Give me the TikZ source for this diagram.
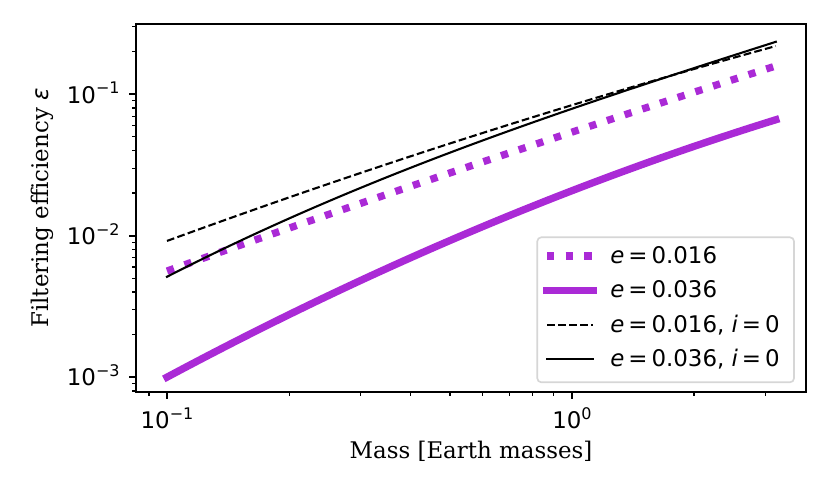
\documentclass[tikz,border=0pt]{standalone}
\usepackage{fontspec}
\setmainfont{DejaVu Serif}
\newfontfamily\dvsans{DejaVu Sans}
\definecolor{purp}{RGB}{170,42,214}
\definecolor{legedge}{RGB}{214,214,214}
\newcommand\tenpow[1]{{\dvsans 10\raisebox{0.4em}{\fontsize{8pt}{8pt}\selectfont #1}}}
\newcommand\eqsp{\hspace{0.17em}=\hspace{0.17em}}
\tikzset{
  spine/.style={line width=0.83pt, line cap=rect},
  majtick/.style={line width=0.83pt},
  mintick/.style={line width=0.62pt},
  dotcurve/.style={purp, line width=3.65pt, dash pattern=on 3.65pt off 5.65pt, line cap=butt, line join=round},
  thickcurve/.style={purp, line width=3.65pt, line cap=rect, line join=round},
  dashcurve/.style={black, line width=1.04pt, dash pattern=on 3.85pt off 1.66pt, line join=round},
  thincurve/.style={black, line width=1.04pt, line cap=rect, line join=round},
  ticklab/.style={inner sep=0pt, font=\fontsize{11.46pt}{13pt}\selectfont\dvsans},
  axlab/.style={inner sep=0pt, font=\fontsize{11.46pt}{13pt}\selectfont},
  legtext/.style={inner sep=0pt, anchor=base west, font=\fontsize{11.46pt}{13pt}\selectfont\dvsans},
  legbox/.style={draw=legedge, line width=0.83pt, fill=white, rounded corners=2pt, inner sep=0pt}
}
\begin{document}
\begin{tikzpicture}[x=0.5pt, y=-0.5pt]
\useasboundingbox (0,0) rectangle (830,498);
% data curves
\begin{scope}[shift={(572,235.7)}, x=202.5pt, y=70.75pt]
  \clip (-1.0765,-1.104) rectangle (0.578,1.497);
  \draw[dotcurve] plot[domain=-1:0.504, samples=80] (\x, {0.732+0.9468*\x-0.035*\x*\x});
  \draw[thickcurve] plot[domain=-1:0.504, samples=80] (\x, {0.318+1.104*\x-0.2138*\x*\x});
  \draw[dashcurve] plot[domain=-1:0.504, samples=80] (\x, {0.9228+0.8732*\x-0.0866*\x*\x});
  \draw[thincurve] plot[domain=-1:0.504, samples=80] (\x, {-0.29+1.3004*(\x+1)-0.2205*(\x+1)*(\x+0.474)+0.0767*(\x+1)*(\x+0.474)*(\x-0.242)});
\end{scope}
% x ticks
\foreach \u in {-1,0} \draw[majtick] ({572+405*\u},392) -- ++(0,7.3);
\foreach \k in {0.09,0.2,0.3,0.4,0.5,0.6,0.7,0.8,0.9,2,3}
  \draw[mintick] ({572+405*ln(\k)/ln(10)},392) -- ++(0,4.17);
% y ticks
\foreach \l in {-1,0,1} \draw[majtick] (136,{235.7-141.5*\l}) -- ++(-7.3,0);
\foreach \k in {2,...,9} {
  \draw[mintick] (136,{235.7-141.5*(-1+ln(\k)/ln(10))}) -- ++(-4.17,0);
  \draw[mintick] (136,{235.7-141.5*(ln(\k)/ln(10))}) -- ++(-4.17,0);
}
\foreach \k in {2,3} \draw[mintick] (136,{235.7-141.5*(1+ln(\k)/ln(10))}) -- ++(-4.17,0);
\foreach \k in {8,9} \draw[mintick] (136,{235.7-141.5*(-2+ln(\k)/ln(10))}) -- ++(-4.17,0);
% tick labels
\node[ticklab, anchor=base] (xt1) at (167,428.3) {\tenpow{−1}};
\node[ticklab, anchor=base] (xt2) at (572,428.3) {\tenpow{0}};
\node[ticklab, anchor=base east] (yt1) at (120,103) {\tenpow{−1}};
\node[ticklab, anchor=base east] (yt2) at (120,244.4) {\tenpow{−2}};
\node[ticklab, anchor=base east] (yt3) at (120,385.9) {\tenpow{−3}};
% axis labels
\node[axlab, anchor=base] (xlab) at (471,458.3) {Mass [Earth masses]};
\node[axlab, anchor=base, rotate=90] (ylab) at (48.5,208) {Filtering efficiency {\dvsans\itshape ε}};
% legend
\node[legbox, minimum width=128.35pt, minimum height=72.5pt] (legend) at (665.65,309.8) {};
\draw[dotcurve] (547,256) -- (593,256);
\draw[thickcurve] (547,290.4) -- (593,290.4);
\draw[dashcurve] (547,324.8) -- (593,324.8);
\draw[thincurve] (547,359.2) -- (593,359.2);
\node[legtext] (l1) at (610,263.3) {{\itshape e}\eqsp 0.016};
\node[legtext] (l2) at (610,297.7) {{\itshape e}\eqsp 0.036};
\node[legtext] (l3) at (610,332.1) {{\itshape e}\eqsp 0.016, {\itshape i}\eqsp 0};
\node[legtext] (l4) at (610,366.5) {{\itshape e}\eqsp 0.036, {\itshape i}\eqsp 0};
% spines
\draw[spine] (136,24) rectangle (806,392);
\end{tikzpicture}
\end{document}
